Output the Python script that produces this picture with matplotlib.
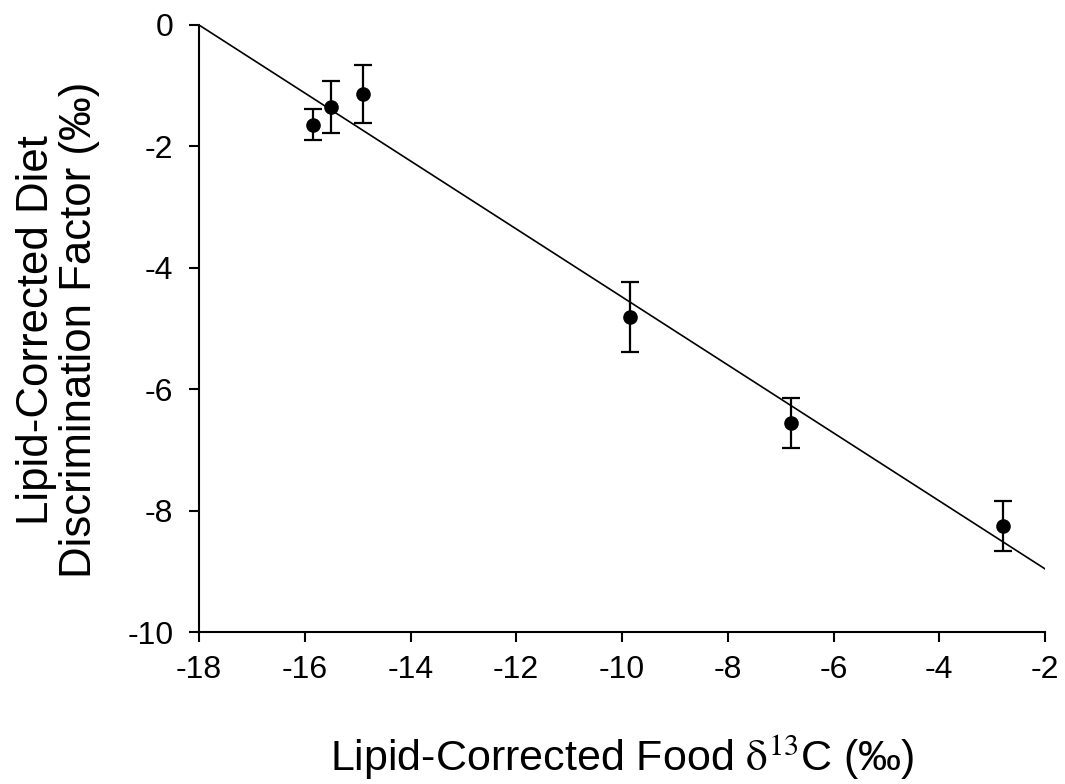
import matplotlib
matplotlib.use("Agg")
import matplotlib.pyplot as plt
import numpy as np

plt.rcParams['font.family'] = ['Liberation Sans', 'DejaVu Sans']
plt.rcParams['mathtext.fontset'] = 'stix'
plt.rcParams['axes.unicode_minus'] = False

# data
food_d13c = [-15.84, -15.51, -14.90, -9.84, -6.81, -2.80]
discrimination = [-1.64, -1.35, -1.14, -4.81, -6.56, -8.25]
err = [0.26, 0.43, 0.48, 0.58, 0.41, 0.41]

# regression line
slope = -0.56
intercept = -10.08
line_x = [-18, -2]

W, H = 1065, 784
fig = plt.figure(figsize=(W / 100, H / 100), dpi=100)
ax = fig.add_axes([199 / W, 1 - 632 / H, (1045 - 199) / W, (632 - 25) / H])

fit_y = [slope * x + intercept for x in line_x]
ax.plot(line_x, fit_y, color='black', linewidth=1.2)

ax.errorbar(food_d13c, discrimination, yerr=err, fmt='o', color='black',
            markersize=9.5, capsize=6.5, elinewidth=1.6, capthick=1.6)

ax.set_xlim(-18, -2)
ax.set_ylim(-10, 0)
ax.set_xticks(np.arange(-18, -1, 2))
ax.set_yticks(np.arange(-10, 1, 2))

ax.spines['top'].set_visible(False)
ax.spines['right'].set_visible(False)
ax.spines['left'].set_linewidth(1.5)
ax.spines['bottom'].set_linewidth(1.5)
ax.tick_params(direction='out', length=7.5, width=1.5, labelsize=23)
ax.tick_params(axis='x', pad=9)
ax.tick_params(axis='y', pad=11)

fig.text(622 / W, (H - 771) / H, r"Lipid-Corrected Food $\mathrm{\delta}^{\mathrm{13}}$C (‰)",
         fontsize=31, ha='center', va='baseline')
fig.text(58 / W, (H - 330) / H, "Lipid-Corrected Diet\nDiscrimination Factor (‰)",
         fontsize=31.5, rotation=90, ha='center', va='center',
         multialignment='center', linespacing=1.05)

fig.savefig("out.png", dpi=100)
